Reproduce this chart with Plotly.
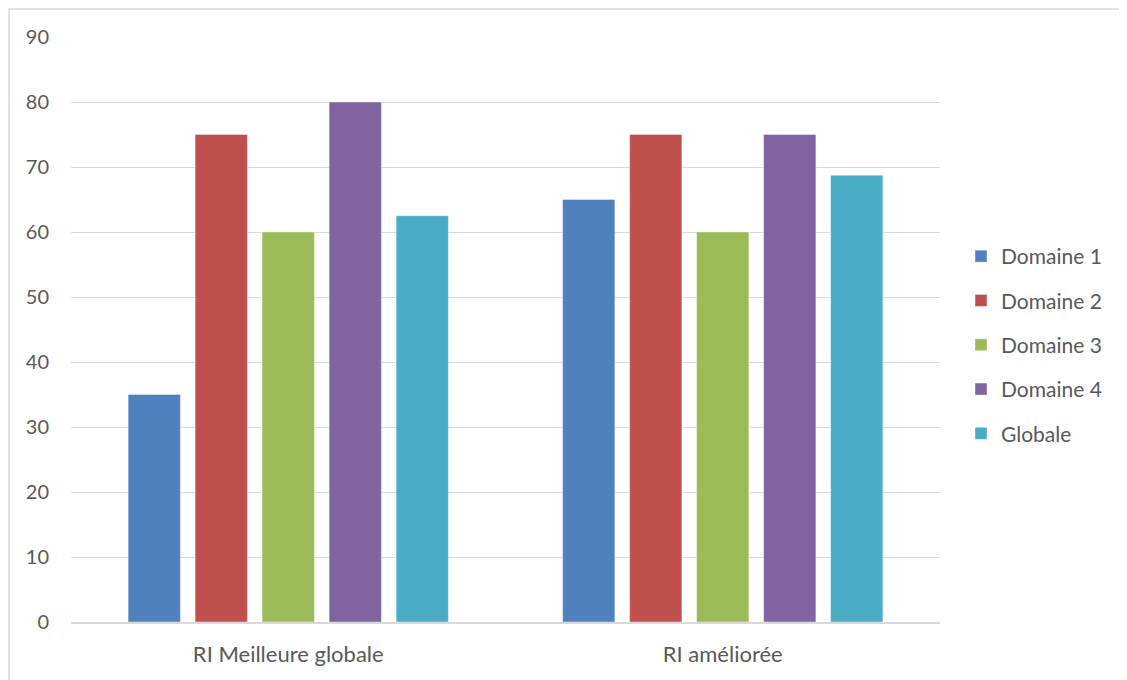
import plotly.graph_objects as go

categories = ["RI Meilleure globale", "RI améliorée"]
series_names = ["Domaine 1", "Domaine 2", "Domaine 3", "Domaine 4", "Globale"]
series_values = [
    [35, 65],
    [75, 75],
    [60, 60],
    [80, 75],
    [62.5, 68.75],
]
colors = ["#4F81BD", "#C0504D", "#9BBB59", "#8064A2", "#4BACC6"]
y_ticks = [0, 10, 20, 30, 40, 50, 60, 70, 80, 90]

OFF = 8  # page offset of the rendered figure
W, H = 1127 - OFF, 680 - OFF
L, R, T, B = 71 - OFF, 940 - OFF, 37 - OFF, 622 - OFF

fig = go.Figure()
for name, vals, col in zip(series_names, series_values, colors):
    fig.add_trace(go.Bar(
        x=categories, y=vals, name=name, marker_color=col,
        marker_line=dict(width=0.8, color="rgba(255,255,255,0.5)"),
        legendgroup=name,
    ))

def px(x):
    return (x - OFF - L) / (R - L)

def py(y):
    return (B - (y - OFF)) / (B - T)

font = "Lato, Open Sans, sans-serif"
fig.update_layout(
    width=W, height=H,
    margin=dict(l=L, r=W - R, t=T, b=H - B, autoexpand=False),
    paper_bgcolor="white", plot_bgcolor="white",
    barmode="group", bargap=0.229, bargroupgap=0.22,
    font=dict(family=font, size=21, color="#595959"),
    xaxis=dict(showline=True, linecolor="#d9d9d9", linewidth=1.5,
               tickfont=dict(size=22, color="#595959"), ticks="",
               ticklabelstandoff=12),
    yaxis=dict(range=[0, 90], tickvals=y_ticks, showgrid=True,
               gridcolor="#d9d9d9", gridwidth=1.3, zeroline=False,
               tickfont=dict(size=20, color="#595959"), ticks="",
               ticklabelstandoff=21),
    legend=dict(x=px(961), y=py(236), xanchor="left", yanchor="top",
                font=dict(size=21, color="#595959"), tracegroupgap=14,
                bgcolor="rgba(0,0,0,0)"),
    showlegend=True,
    shapes=[
        dict(type="line", xref="paper", yref="paper",
             x0=px(8), x1=px(1127), y0=py(9), y1=py(9),
             line=dict(color="#d9d9d9", width=1.5)),
        dict(type="line", xref="paper", yref="paper",
             x0=px(9), x1=px(9), y0=py(9), y1=py(680),
             line=dict(color="#d9d9d9", width=1.5)),
    ],
)

fig.write_html("out.html")
